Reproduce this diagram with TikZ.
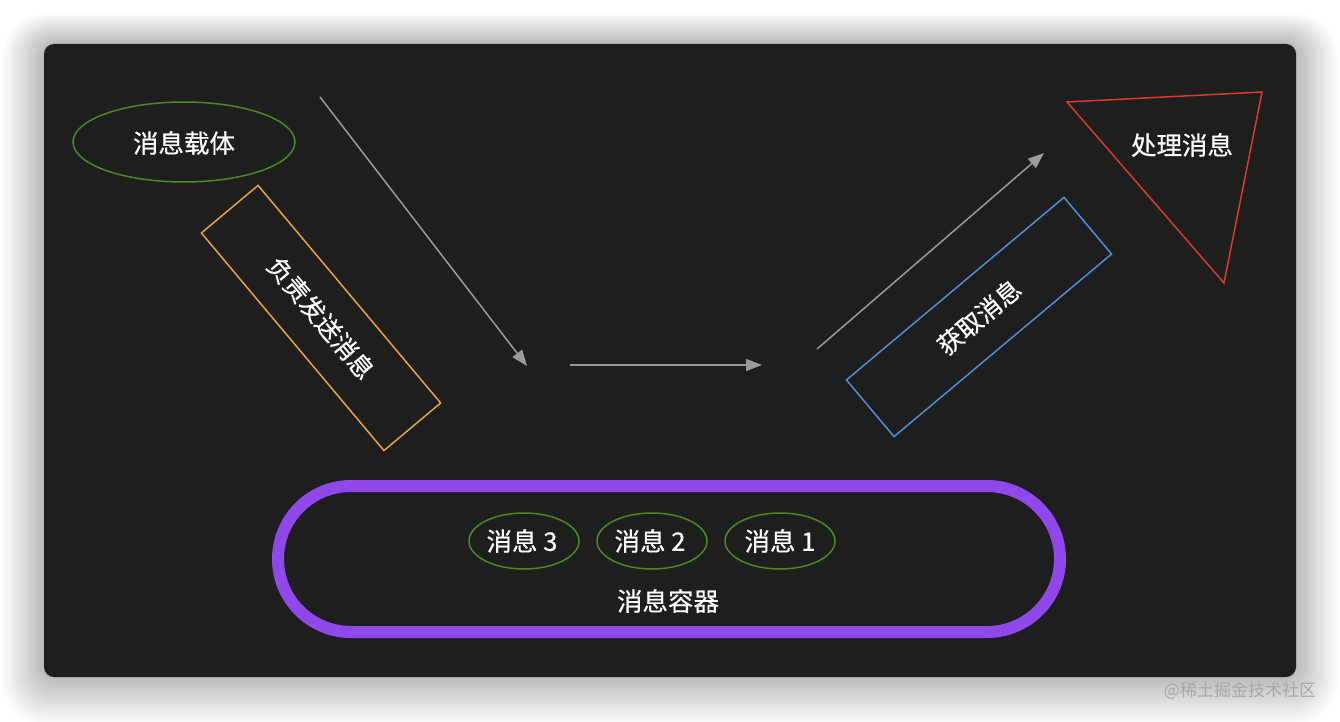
\documentclass[tikz,border=0pt]{standalone}
\usepackage{fontspec}
\setmainfont{Noto Sans CJK SC}[FakeBold=0.6]
\newfontfamily\wmfont{Noto Sans CJK SC}
\usetikzlibrary{arrows.meta,shapes.geometric}
\definecolor{panel}{HTML}{1E1E1E}
\definecolor{ellgreen}{HTML}{4A8A1F}
\definecolor{boxorange}{HTML}{E8A33D}
\definecolor{boxblue}{HTML}{4A8FD8}
\definecolor{trired}{HTML}{D93A2B}
\definecolor{contpurple}{HTML}{9148EA}
\definecolor{arrgray}{HTML}{9A9A9A}
\definecolor{wmgray}{HTML}{A8A8A8}
\tikzset{
  lbl/.style={text=white, font=\fontsize{25.5}{28}\selectfont, inner sep=0pt},
  greenell/.style={ellipse, draw=ellgreen, line width=1.5pt, inner sep=0pt},
  slantbox/.style={draw, line width=1.5pt, minimum width=284pt, minimum height=74pt, inner sep=0pt,
    text=white, font=\fontsize{25}{28}\selectfont},
  flowarrow/.style={draw=arrgray, line width=1.5pt, -{Triangle[length=16pt,width=12pt]}, arrgray},
}
\begin{document}
\begin{tikzpicture}[x=1pt,y=-1pt]
\useasboundingbox (0,0) rectangle (1340,722);
\fill[white] (0,0) rectangle (1340,722);
% shadow
\foreach \i in {1,...,22} {
  \fill[black, opacity=0.010, rounded corners=12+\i*1.5]
    (44-\i*1.9,44-\i*1.4) rectangle (1296+\i*1.9,677+\i*2.2);
}
\fill[panel, rounded corners=10] (44,44) rectangle (1296,677);

% message carrier
\node[greenell, minimum width=222pt, minimum height=80pt] (carrier) at (184,142) {};
\node[lbl] (carriertxt) at (184,143) {消息载体};

% orange box
\node[slantbox, draw=boxorange, rotate=-50] (send) at (321,318) {负责发送消息};

% arrows
\coordinate (a1s) at (320,97);
\coordinate (a1e) at (527,366);
\draw[flowarrow] (a1s) -- (a1e);
\coordinate (a2s) at (570,365);
\coordinate (a2e) at (762,365);
\draw[flowarrow] (a2s) -- (a2e);
\coordinate (a3s) at (817,349);
\coordinate (a3e) at (1044,153);
\draw[flowarrow] (a3s) -- (a3e);

% blue box
\node[slantbox, draw=boxblue, rotate=40] (fetch) at (979,317) {获取消息};

% red triangle
\coordinate (t1) at (1067,102);
\coordinate (t2) at (1262,92);
\coordinate (t3) at (1224,283);
\draw[trired, line width=1.5pt, line join=miter] (t1) -- (t2) -- (t3) -- cycle;
\node[lbl] (handle) at (1182,145) {处理消息};

% container
\node[draw=contpurple, line width=12pt, rounded corners=73pt, minimum width=782pt, minimum height=146pt, inner sep=0pt] (container) at (669,559) {};
\node[greenell, minimum width=110pt, minimum height=56pt] (m3) at (524,541) {};
\node[lbl] (m3t) at (522,541) {消息 3};
\node[greenell, minimum width=110pt, minimum height=56pt] (m2) at (652,541) {};
\node[lbl] (m2t) at (650,541) {消息 2};
\node[greenell, minimum width=110pt, minimum height=56pt] (m1) at (780,541) {};
\node[lbl] (m1t) at (780,541) {消息 1};
\node[lbl] (conttxt) at (668,601) {消息容器};

% watermark
\node[text=wmgray, font=\wmfont\fontsize{17}{20}\selectfont, inner sep=0pt] (wm) at (1240,691) {@稀土掘金技术社区};
\end{tikzpicture}
\end{document}
